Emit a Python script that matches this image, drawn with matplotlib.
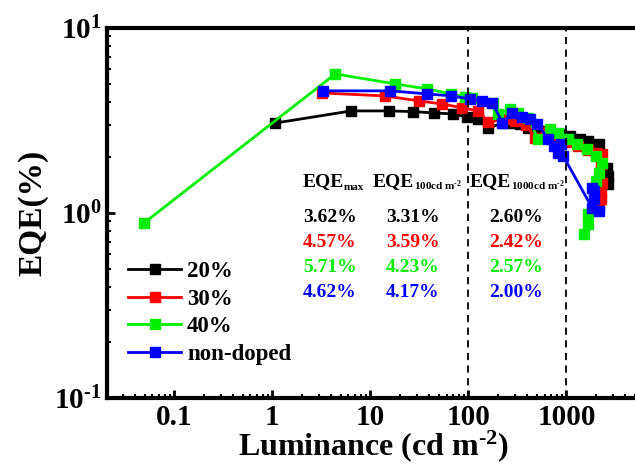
import matplotlib
matplotlib.use("Agg")
import matplotlib.pyplot as plt
from matplotlib.ticker import LogLocator, NullFormatter

plt.rcParams['font.family'] = 'Liberation Serif'
plt.rcParams['font.weight'] = 'bold'
plt.rcParams['mathtext.fontset'] = 'custom'
plt.rcParams['mathtext.rm'] = 'Liberation Serif:bold'
plt.rcParams['mathtext.it'] = 'Liberation Serif:bold'
plt.rcParams['mathtext.bf'] = 'Liberation Serif:bold'

# luminance (cd m-2) and EQE (%)
lum_20 = [1.07, 6.4, 15.6, 27.5, 45, 69, 98, 126, 160, 228, 282, 340, 408, 543,
          687, 868, 1100, 1380, 1670, 2130, 2620, 2680, 2680]
eqe_20 = [3.06, 3.56, 3.56, 3.53, 3.47, 3.43, 3.30, 3.22, 2.88, 3.07, 3.07, 3.03,
          2.88, 2.77, 2.71, 2.67, 2.61, 2.51, 2.45, 2.36, 1.75, 1.58, 1.43]

lum_30 = [3.24, 14.2, 31.6, 54, 87, 126, 160, 230, 300, 390, 480, 620, 800,
          1000, 1300, 1650, 2000, 2330, 2240, 2300, 2240, 2240, 2150]
eqe_30 = [4.45, 4.29, 4.03, 3.88, 3.70, 3.56, 3.10, 3.20, 3.14, 3.00, 2.54, 2.75,
          2.62, 2.42, 2.30, 2.20, 2.10, 2.08, 1.84, 1.45, 1.28, 1.19, 1.10]

lum_40 = [0.049, 4.4, 18, 38, 67, 93, 110, 180, 199, 268, 322, 408, 516, 687,
          830, 1050, 1290, 1630, 1990, 2330, 2130, 1990, 1670, 1670, 1520]
eqe_40 = [0.88, 5.64, 4.98, 4.68, 4.40, 4.24, 4.17, 3.93, 3.43, 3.65, 3.47, 3.26,
          2.51, 2.84, 2.71, 2.51, 2.36, 2.22, 2.03, 1.86, 1.65, 1.49, 0.99, 0.87, 0.77]

lum_nd = [3.3, 16, 38, 67, 105, 138, 176, 223, 282, 355, 428, 504, 656, 740,
          830, 880, 930, 1840, 2130, 1890, 1890, 1840]
eqe_nd = [4.57, 4.57, 4.40, 4.29, 4.13, 4.03, 3.93, 3.07, 3.47, 3.30, 3.22, 3.03,
          2.51, 2.30, 2.11, 2.36, 2.03, 1.06, 1.03, 1.19, 1.31, 1.36]

labels = ["20%", "30%", "40%", "non-doped"]
colors = ["black", "red", "#00ee00", "blue"]

eqe_max = ["3.62%", "4.57%", "5.71%", "4.62%"]
eqe_100 = ["3.31%", "3.59%", "4.23%", "4.17%"]
eqe_1000 = ["2.60%", "2.42%", "2.57%", "2.00%"]

fig = plt.figure(figsize=(6.35, 4.65), dpi=100)
ax = fig.add_axes([0.1685, 0.144, 0.9, 0.796])

series = [(lum_20, eqe_20), (lum_30, eqe_30), (lum_40, eqe_40), (lum_nd, eqe_nd)]
for (x, y), lab, c in zip(series, labels, colors):
    ax.plot(x, y, "-s", color=c, label=lab, lw=2, ms=7, mec=c)

ax.set_xscale("log")
ax.set_yscale("log")
ax.set_xlim(10 ** -1.684, 10 ** 4.143)
ax.set_ylim(0.1, 10)

ax.axvline(100, color="black", ls=(0, (4, 3)), lw=1.3)
ax.axvline(1000, color="black", ls=(0, (4, 3)), lw=1.3)

for s in ax.spines.values():
    s.set_linewidth(3)
ax.tick_params(which="major", direction="in", length=6, width=2, labelsize=21, pad=4)
ax.tick_params(which="minor", direction="in", length=3, width=1.5)
ax.xaxis.set_minor_locator(LogLocator(base=10, subs=range(2, 10), numticks=12))
ax.xaxis.set_minor_formatter(NullFormatter())
ax.yaxis.set_minor_formatter(NullFormatter())
ax.set_xticks([0.1, 1, 10, 100, 1000])
ax.set_xticklabels(["0.1", "1", "10", "100", "1000"])
ax.set_yticks([0.1, 1, 10])
ax.set_yticklabels(["$10^{\\text{-1}}$", "$10^{0}$", "$10^{1}$"])

ax.set_xlabel("Luminance (cd m$^{\\text{-2}}$)", fontsize=23, fontweight="bold", labelpad=0)
ax.xaxis.set_label_coords(0.467, -0.081, transform=ax.transAxes)
ax.xaxis.label.set_va("top")
ax.set_ylabel("EQE(%)", fontsize=24, fontweight="bold", labelpad=4)

ax.legend(loc="upper left", bbox_to_anchor=(0.0, 0.425), frameon=False, fontsize=16.5,
          handlelength=2.35, labelspacing=0.28, handletextpad=0.25, borderaxespad=0.5)

# table of EQE values
tr = lambda px, py: (px / 635, 1 - py / 465)
hdr_y = 186
for px, sub, subx in [(303, "max", 344), (373, "100cd m$^{\\text{-2}}$", 414),
                      (470, "1000cd m$^{\\text{-2}}$", 511)]:
    fig.text(*tr(px, hdr_y), "EQE", fontsize=14, va="baseline")
    fig.text(*tr(subx, hdr_y + 4), sub, fontsize=8, va="baseline")
for i, c in enumerate(colors):
    yy = 218 + i * 24.7
    fig.text(*tr(330, yy), eqe_max[i], color=c, fontsize=14, ha="center", va="center")
    fig.text(*tr(413, yy), eqe_100[i], color=c, fontsize=14, ha="center", va="center")
    fig.text(*tr(516, yy), eqe_1000[i], color=c, fontsize=14, ha="center", va="center")

fig.savefig("out.png", dpi=100)
